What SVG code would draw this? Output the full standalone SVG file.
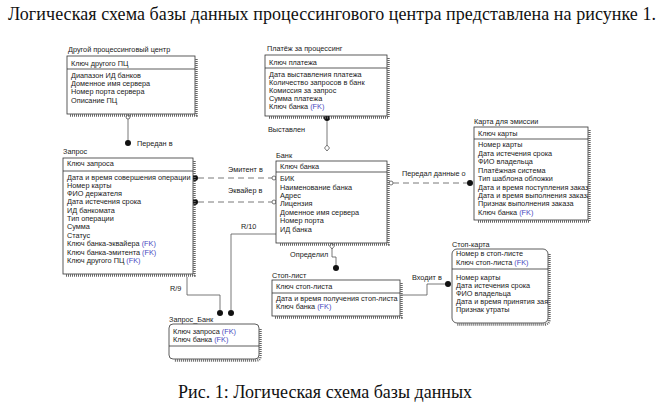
<svg xmlns="http://www.w3.org/2000/svg" width="666" height="406" viewBox="0 0 666 406">
<style>
.t{font-family:"Liberation Sans",Arial,sans-serif;font-size:7.3px;fill:#1a1a1a}
.fk{fill:#4848c0}
.cap{font-family:"Liberation Serif","Times New Roman",serif;font-size:18px;fill:#111}
.box{fill:#fff;stroke:#333;stroke-width:0.8}
.div{stroke:#333;stroke-width:0.8}
.sh{fill:none;stroke:#666;stroke-width:2.4;stroke-dasharray:1 1}
.ln{fill:none;stroke:#555;stroke-width:0.8}
.dash{stroke-dasharray:6 4}
.dot{fill:#111}
.oc{fill:#fff;stroke:#555;stroke-width:0.8}
</style>
<defs>
<clipPath id="cKarta"><rect x="474" y="127" width="114" height="93"/></clipPath>
<clipPath id="cStopK"><rect x="452" y="249" width="96" height="74" rx="5"/></clipPath>
</defs>
<rect width="666" height="406" fill="#fff"/>
<text class="cap" x="8" y="20" textLength="648" lengthAdjust="spacing">Логическая схема базы данных процессингового центра представлена на рисунке 1.</text>
<text class="cap" x="178" y="398">Рис. 1: Логическая схема базы данных</text>

<g id="connectors">
  <path class="ln" d="M128 119 V141"/>
  <circle class="oc" cx="128" cy="117" r="2"/>
  <circle class="dot" cx="128" cy="143" r="3"/>
  <text class="t" x="137" y="146">Передан в</text>

  <path class="ln" d="M327 120 V145"/>
  <circle class="dot" cx="327" cy="118" r="3"/>
  <path class="oc" d="M327 145 L329.5 148 L327 151 L324.5 148 Z"/>
  <text class="t" x="268" y="131.5">Выставлен</text>

  <path class="ln dash" d="M198 178 H272"/>
  <circle class="dot" cx="195" cy="178" r="3"/>
  <circle class="oc" cx="274" cy="178" r="2"/>
  <text class="t" x="228" y="171.5">Эмитент в</text>

  <path class="ln dash" d="M198 202 H272"/>
  <circle class="dot" cx="195" cy="202" r="3"/>
  <circle class="oc" cx="274" cy="202" r="2"/>
  <text class="t" x="228" y="192.5">Эквайер в</text>

  <path class="ln dash" d="M393 183 H467"/>
  <circle class="oc" cx="391" cy="183" r="2"/>
  <circle class="dot" cx="470" cy="183" r="3"/>
  <text class="t" x="402" y="175.5">Передал данные о</text>

  <path class="ln" d="M276 234 H231 V310"/>
  <circle class="dot" cx="231" cy="313" r="3"/>
  <text class="t" x="241" y="229">R/10</text>

  <path class="ln" d="M187 277 V295 H220 V310"/>
  <circle class="dot" cx="220" cy="313" r="3"/>
  <text class="t" x="170" y="290.5">R/9</text>

  <path class="ln" d="M332 248 V257 H336 V266"/>
  <path class="oc" d="M332 243 L334.5 246 L332 249 L329.5 246 Z"/>
  <circle class="dot" cx="336" cy="268" r="3"/>
  <text class="t" x="290" y="257">Определил</text>

  <path class="ln" d="M401 295 H427 V284 H446"/>
  <circle class="dot" cx="448" cy="284" r="3"/>
  <text class="t" x="412" y="279.5">Входит в</text>
</g>

<g id="other-pc">
  <text class="t" x="68" y="52">Другой процессинговый центр</text>
  <path class="sh" d="M196.5 59 V115.5 H70"/>
  <rect class="box" x="67" y="56" width="128" height="58"/>
  <line class="div" x1="67" y1="69" x2="195" y2="69"/>
  <text class="t" x="71" y="65.5">Ключ другого ПЦ</text>
  <text class="t" x="71" y="77.5">Диапазон ИД банков</text>
  <text class="t" x="71" y="85.5">Доменное имя сервера</text>
  <text class="t" x="71" y="94">Номер порта сервера</text>
  <text class="t" x="71" y="102.5">Описание ПЦ</text>
</g>

<g id="payment">
  <text class="t" x="267" y="51">Платёж за процессинг</text>
  <path class="sh" d="M388.5 58 V117.5 H268"/>
  <rect class="box" x="265" y="55" width="122" height="61"/>
  <line class="div" x1="265" y1="68" x2="387" y2="68"/>
  <text class="t" x="269" y="64.5">Ключ платежа</text>
  <text class="t" x="269" y="76.5">Дата выставления платежа</text>
  <text class="t" x="269" y="84.5">Количество запросов в банк</text>
  <text class="t" x="269" y="92.5">Комиссия за запрос</text>
  <text class="t" x="269" y="100.5">Сумма платежа</text>
  <text class="t" x="269" y="109">Ключ банка <tspan class="fk">(FK)</tspan></text>
</g>

<g id="bank">
  <text class="t" x="276" y="157.5">Банк</text>
  <path class="sh" d="M388.5 164 V244.5 H279"/>
  <rect class="box" x="276" y="161" width="111" height="82"/>
  <line class="div" x1="276" y1="172" x2="387" y2="172"/>
  <text class="t" x="280" y="168.5">Ключ банка</text>
  <text class="t" x="280" y="180.5">БИК</text>
  <text class="t" x="280" y="189.5">Наименование банка</text>
  <text class="t" x="280" y="197.5">Адрес</text>
  <text class="t" x="280" y="205.5">Лицензия</text>
  <text class="t" x="280" y="214.5">Доменное имя сервера</text>
  <text class="t" x="280" y="222.5">Номер порта</text>
  <text class="t" x="280" y="231.5">ИД банка</text>
</g>

<g id="card">
  <text class="t" x="474" y="123.5">Карта для эмиссии</text>
  <path class="sh" d="M589.5 130 V221.5 H477"/>
  <rect class="box" x="474" y="127" width="114" height="93"/>
  <line class="div" x1="474" y1="139" x2="588" y2="139"/>
  <g clip-path="url(#cKarta)">
  <text class="t" x="478" y="135.5">Ключ карты</text>
  <text class="t" x="478" y="146.5">Номер карты</text>
  <text class="t" x="478" y="155.5">Дата истечения срока</text>
  <text class="t" x="478" y="164">ФИО владельца</text>
  <text class="t" x="478" y="172.5">Платёжная система</text>
  <text class="t" x="478" y="180.5">Тип шаблона обложки</text>
  <text class="t" x="478" y="189.5">Дата и время поступления заказа</text>
  <text class="t" x="478" y="197.5">Дата и время выполнения заказа</text>
  <text class="t" x="478" y="205.5">Признак выполнения заказа</text>
  <text class="t" x="478" y="214.5">Ключ банка <tspan class="fk">(FK)</tspan></text>
  </g>
</g>

<g id="request">
  <text class="t" x="63" y="154">Запрос</text>
  <path class="sh" d="M194.5 161 V275.5 H66"/>
  <rect class="box" x="63" y="158" width="130" height="116"/>
  <line class="div" x1="63" y1="171" x2="193" y2="171"/>
  <text class="t" x="67" y="165.5">Ключ запроса</text>
  <text class="t" x="67" y="179.5">Дата и время совершения операции</text>
  <text class="t" x="67" y="187.5">Номер карты</text>
  <text class="t" x="67" y="195.5">ФИО держателя</text>
  <text class="t" x="67" y="204">Дата истечения срока</text>
  <text class="t" x="67" y="212.5">ИД банкомата</text>
  <text class="t" x="67" y="220.5">Тип операции</text>
  <text class="t" x="67" y="229">Сумма</text>
  <text class="t" x="67" y="237.5">Статус</text>
  <text class="t" x="67" y="246">Ключ банка-эквайера <tspan class="fk">(FK)</tspan></text>
  <text class="t" x="67" y="254.5">Ключ банка-эмитента <tspan class="fk">(FK)</tspan></text>
  <text class="t" x="67" y="263">Ключ другого ПЦ <tspan class="fk">(FK)</tspan></text>
</g>

<g id="request-bank">
  <text class="t" x="169" y="321.5">Запрос_Банк</text>
  <path class="sh" d="M260.5 329 V356 Q260.5 360.5 256 360.5 H174"/>
  <rect class="box" x="169" y="324" width="90" height="35" rx="4"/>
  <line class="div" x1="169" y1="346" x2="259" y2="346"/>
  <text class="t" x="173" y="333.5">Ключ запроса <tspan class="fk">(FK)</tspan></text>
  <text class="t" x="173" y="341.5">Ключ банка <tspan class="fk">(FK)</tspan></text>
</g>

<g id="stop-list">
  <text class="t" x="272" y="278">Стоп-лист</text>
  <path class="sh" d="M401.5 283 V317.5 H275"/>
  <rect class="box" x="272" y="280" width="128" height="36"/>
  <line class="div" x1="272" y1="293" x2="400" y2="293"/>
  <text class="t" x="276" y="288.5">Ключ стоп-листа</text>
  <text class="t" x="276" y="300.5">Дата и время получения стоп-листа</text>
  <text class="t" x="276" y="308.5">Ключ банка <tspan class="fk">(FK)</tspan></text>
</g>

<g id="stop-card">
  <text class="t" x="452" y="247">Стоп-карта</text>
  <path class="sh" d="M549.5 254 V319 Q549.5 324.5 544 324.5 H457"/>
  <rect class="box" x="452" y="249" width="96" height="74" rx="5"/>
  <line class="div" x1="452" y1="269" x2="548" y2="269"/>
  <g clip-path="url(#cStopK)">
  <text class="t" x="456" y="256">Номер в стоп-листе</text>
  <text class="t" x="456" y="264.5">Ключ стоп-листа <tspan class="fk">(FK)</tspan></text>
  <text class="t" x="456" y="279.5">Номер карты</text>
  <text class="t" x="456" y="287.5">Дата истечения срока</text>
  <text class="t" x="456" y="295.5">ФИО владельца</text>
  <text class="t" x="456" y="303.5">Дата и время принятия заявки</text>
  <text class="t" x="456" y="311.5">Признак утраты</text>
  </g>
</g>
</svg>
